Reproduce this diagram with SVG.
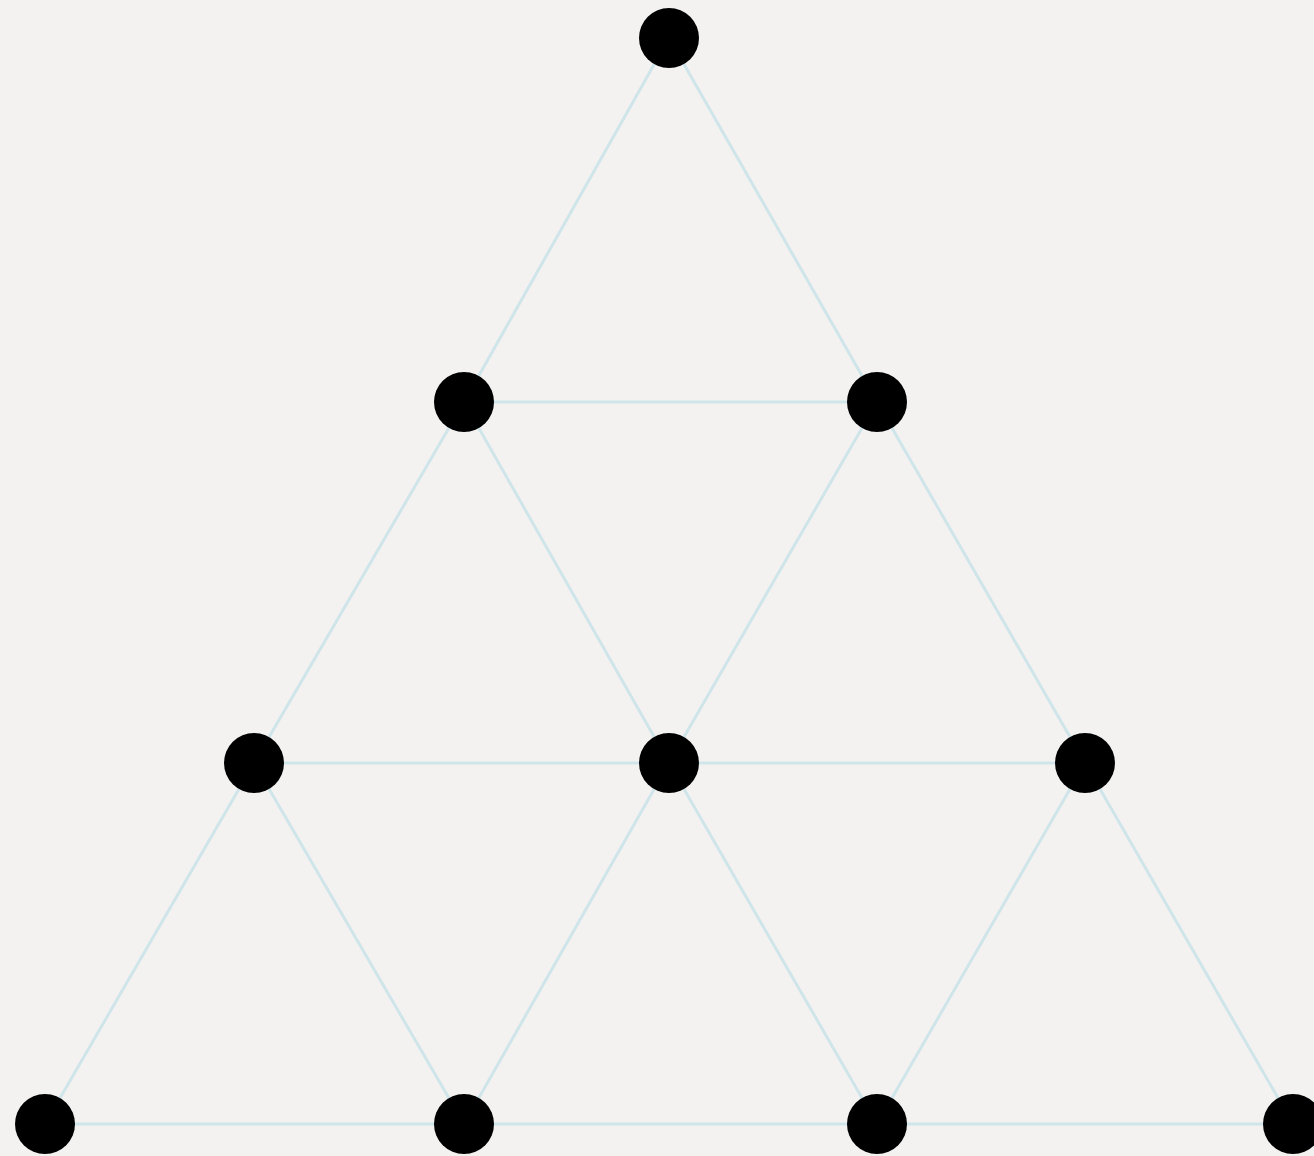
<svg xmlns="http://www.w3.org/2000/svg" width="1314" height="1156" viewBox="0 0 1314 1156">
<style>
.e{stroke:#cfe5ea;stroke-width:3;fill:none;stroke-linecap:round}
.n{fill:#000}
</style>
<rect width="1314" height="1156" fill="#f3f2f1"/>
<g id="connectors">
<line class="e" x1="669" y1="38" x2="464" y2="402"/>
<line class="e" x1="669" y1="38" x2="877" y2="402"/>
<line class="e" x1="464" y1="402" x2="877" y2="402"/>
<line class="e" x1="464" y1="402" x2="254" y2="763"/>
<line class="e" x1="464" y1="402" x2="669" y2="763"/>
<line class="e" x1="877" y1="402" x2="669" y2="763"/>
<line class="e" x1="877" y1="402" x2="1085" y2="763"/>
<line class="e" x1="254" y1="763" x2="669" y2="763"/>
<line class="e" x1="669" y1="763" x2="1085" y2="763"/>
<line class="e" x1="254" y1="763" x2="45" y2="1124"/>
<line class="e" x1="254" y1="763" x2="464" y2="1124"/>
<line class="e" x1="669" y1="763" x2="464" y2="1124"/>
<line class="e" x1="669" y1="763" x2="877" y2="1124"/>
<line class="e" x1="1085" y1="763" x2="877" y2="1124"/>
<line class="e" x1="1085" y1="763" x2="1293" y2="1124"/>
<line class="e" x1="45" y1="1124" x2="464" y2="1124"/>
<line class="e" x1="464" y1="1124" x2="877" y2="1124"/>
<line class="e" x1="877" y1="1124" x2="1293" y2="1124"/>
</g>
<g id="n0"><circle class="n" cx="669" cy="38" r="30"/></g>
<g id="n1"><circle class="n" cx="464" cy="402" r="30"/></g>
<g id="n2"><circle class="n" cx="877" cy="402" r="30"/></g>
<g id="n3"><circle class="n" cx="254" cy="763" r="30"/></g>
<g id="n4"><circle class="n" cx="669" cy="763" r="30"/></g>
<g id="n5"><circle class="n" cx="1085" cy="763" r="30"/></g>
<g id="n6"><circle class="n" cx="45" cy="1124" r="30"/></g>
<g id="n7"><circle class="n" cx="464" cy="1124" r="30"/></g>
<g id="n8"><circle class="n" cx="877" cy="1124" r="30"/></g>
<g id="n9"><circle class="n" cx="1293" cy="1124" r="30"/></g>
</svg>
